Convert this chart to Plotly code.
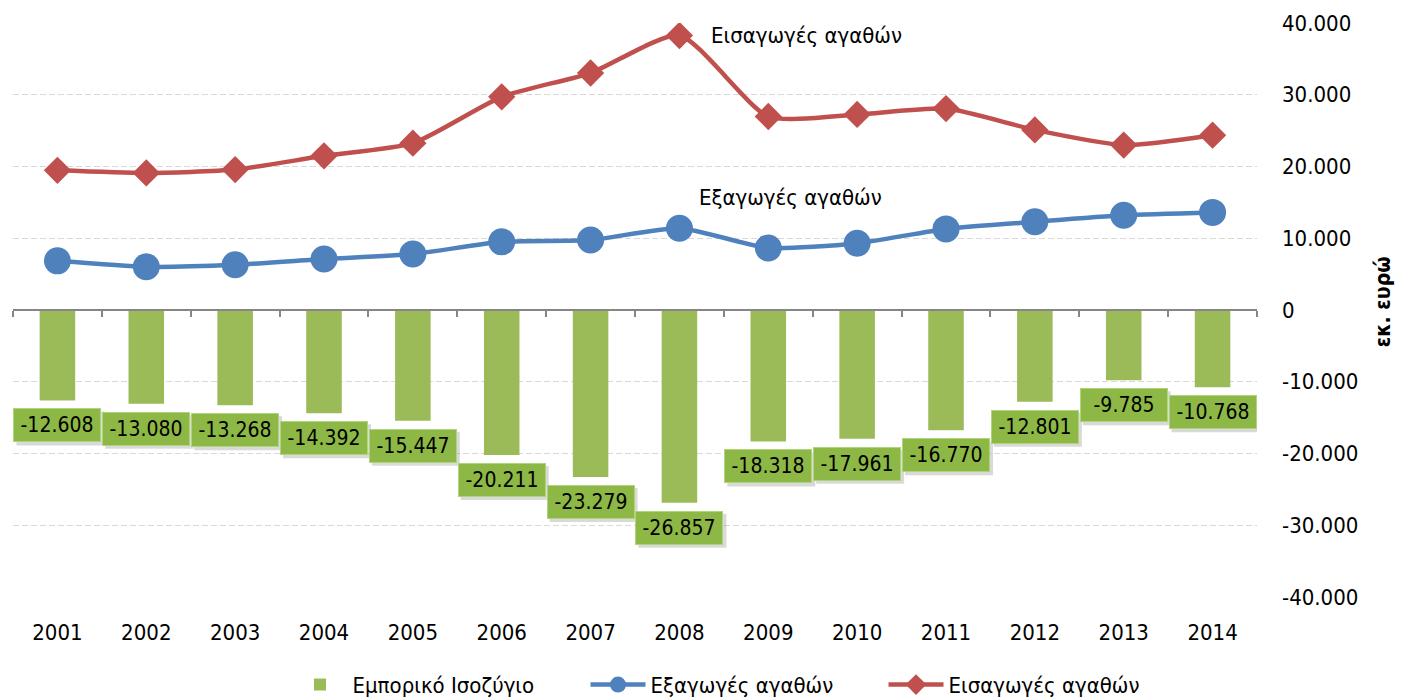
import plotly.graph_objects as go

# Annual figures, million euro
years = ["2001", "2002", "2003", "2004", "2005", "2006", "2007",
         "2008", "2009", "2010", "2011", "2012", "2013", "2014"]
balance = [-12608, -13080, -13268, -14392, -15447, -20211, -23279,
           -26857, -18318, -17961, -16770, -12801, -9785, -10768]
exports = [6850, 6020, 6300, 7100, 7800, 9500, 9750,
           11400, 8650, 9300, 11300, 12300, 13200, 13600]
imports = [19460, 19100, 19570, 21490, 23250, 29710, 33030,
           38260, 26970, 27260, 28070, 25100, 22990, 24370]

balance_labels = [f"{v:,}".replace(",", ".") for v in balance]
tick_vals = [-40000, -30000, -20000, -10000, 0, 10000, 20000, 30000, 40000]
tick_text = [f"{v:,}".replace(",", ".") for v in tick_vals]

FONT = "DejaVu Sans Condensed, Tahoma, DejaVu Sans, sans-serif"
GREEN = "#9BBB59"
BLUE = "#4F81BD"
RED = "#C0504D"
AXIS_GREY = "#868686"

fig = go.Figure()

fig.add_trace(go.Bar(
    x=years, y=balance, name="Εμπορικό Ισοζύγιο",
    marker=dict(color=GREEN, line=dict(width=0)),
    width=0.4, xaxis="x2", yaxis="y",
))
fig.add_trace(go.Scatter(
    x=years, y=exports, name="Εξαγωγές αγαθών", mode="lines+markers",
    line=dict(color=BLUE, width=4.5, shape="spline", smoothing=0.6),
    marker=dict(symbol="circle", size=27, color=BLUE),
))
fig.add_trace(go.Scatter(
    x=years, y=imports, name="Εισαγωγές αγαθών", mode="lines+markers",
    line=dict(color=RED, width=4.5, shape="spline", smoothing=0.6),
    marker=dict(symbol="diamond", size=21, color=RED),
))

# value boxes under each bar; category positions are indices on the axis
LABEL_DROP = 25   # px below the bar end
BOX_HALF_W = 44
BOX_HALF_H = 17
shapes = []
annotations = []
for i, (v, lab) in enumerate(zip(balance, balance_labels)):
    # soft drop shadow behind the box
    shapes.append(dict(
        type="rect", xref="x2", yref="y",
        xsizemode="pixel", ysizemode="pixel", xanchor=i, yanchor=v,
        x0=-BOX_HALF_W + 3, x1=BOX_HALF_W + 3,
        y0=-LABEL_DROP - BOX_HALF_H - 3, y1=-LABEL_DROP + BOX_HALF_H - 3,
        fillcolor="rgba(0,0,0,0.15)", line=dict(width=0), layer="above",
    ))
    annotations.append(dict(
        x=i, y=v, xref="x2", yref="y", text=lab, showarrow=False,
        font=dict(family=FONT, size=21, color="#000000"),
        bgcolor="#8DB845", bordercolor="#B0D47C", borderwidth=1,
        width=2 * BOX_HALF_W - 4, height=2 * BOX_HALF_H - 4, borderpad=1,
        yanchor="middle", yshift=-LABEL_DROP,
    ))

# series names next to the 2008 points
i08 = years.index("2008")
annotations.append(dict(
    x=i08, y=imports[i08], xref="x", yref="y",
    text="Εισαγωγές αγαθών", showarrow=False, xanchor="left",
    yanchor="middle", xshift=30, yshift=0,
    font=dict(family=FONT, size=22, color="#000000"),
))
annotations.append(dict(
    x=i08, y=exports[i08], xref="x", yref="y",
    text="Εξαγωγές αγαθών", showarrow=False, xanchor="left",
    yanchor="middle", xshift=18, yshift=31,
    font=dict(family=FONT, size=22, color="#000000"),
))
# unit title on the right
annotations.append(dict(
    x=1.1125, y=0.515, xref="paper", yref="paper", text="<b>εκ. ευρώ</b>",
    showarrow=False, textangle=-90,
    font=dict(family=FONT, size=21, color="#000000"),
))

fig.update_layout(
    width=1412, height=700,
    margin=dict(l=13, r=155, t=23, b=103, autoexpand=False),
    paper_bgcolor="white", plot_bgcolor="white",
    font=dict(family=FONT, size=22, color="#000000"),
    showlegend=True,
    legend=dict(
        orientation="h", x=0.58, xanchor="center", y=-0.153, yanchor="middle",
        font=dict(family=FONT, size=22), itemwidth=55, entrywidth=228,
        traceorder="normal",
    ),
    xaxis=dict(
        type="category", categoryorder="array", categoryarray=years,
        range=[-0.5, 13.5], showgrid=False, showline=False, zeroline=False,
        ticks="", tickfont=dict(family=FONT, size=22), ticklabelstandoff=20,
    ),
    xaxis2=dict(
        type="category", categoryorder="array", categoryarray=years,
        range=[-0.5, 13.5], overlaying="x", anchor="free", position=0.5,
        side="bottom", showgrid=False, zeroline=False, showline=True,
        linecolor=AXIS_GREY, linewidth=2, ticks="outside", ticklen=6,
        tickwidth=2, tickcolor=AXIS_GREY, tickson="boundaries",
        showticklabels=False,
    ),
    yaxis=dict(
        range=[-40000, 40000], side="right", tickvals=tick_vals,
        ticktext=tick_text, showgrid=True, gridcolor="#D9D9D9", gridwidth=1,
        griddash="6px,3px", zeroline=False, showline=False, ticks="",
        ticklabelstandoff=24, tickfont=dict(family=FONT, size=22),
    ),
    yaxis2=dict(
        range=[-40000, 40000], overlaying="y", side="left", tickvals=tick_vals,
        showgrid=False, zeroline=False, showline=True, linecolor=AXIS_GREY,
        linewidth=2, ticks="outside", ticklen=5, tickwidth=2,
        tickcolor=AXIS_GREY, showticklabels=False,
    ),
    shapes=shapes,
    annotations=annotations,
    bargap=0.6,
)

fig.write_html("out.html")
